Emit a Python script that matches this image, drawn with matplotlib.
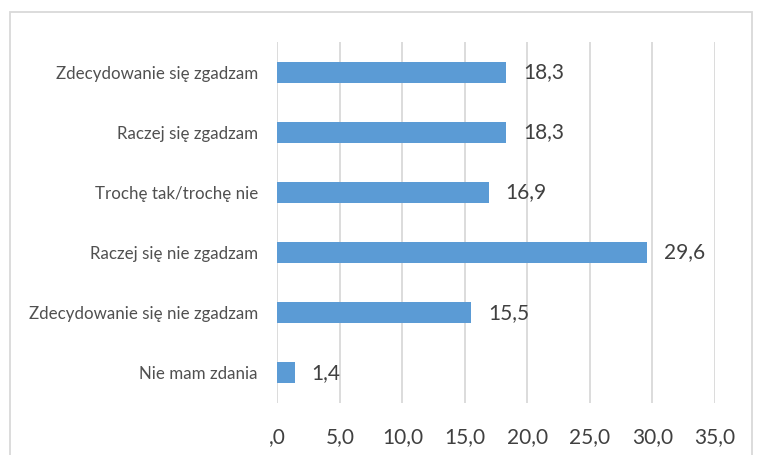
import matplotlib.pyplot as plt
from matplotlib.patches import Rectangle

categories = [
    "Zdecydowanie się zgadzam",
    "Raczej się zgadzam",
    "Trochę tak/trochę nie",
    "Raczej się nie zgadzam",
    "Zdecydowanie się nie zgadzam",
    "Nie mam zdania",
]
values = [18.3, 18.3, 16.9, 29.6, 15.5, 1.4]
xticks = [0, 5, 10, 15, 20, 25, 30, 35]
xtick_labels = [",0", "5,0", "10,0", "15,0", "20,0", "25,0", "30,0", "35,0"]

plt.rcParams["font.family"] = ["Lato", "DejaVu Sans"]
text_color = "#404040"
grid_color = "#D9D9D9"

fig = plt.figure(figsize=(7.58, 4.55), dpi=100)
ax = fig.add_axes([0.366, 0.1143, 0.577, 0.7934])

pos = list(range(len(categories)))[::-1]
ax.barh(pos, values, height=0.35, color="#5B9BD5", zorder=2)
for p, v in zip(pos, values):
    ax.annotate(f"{v:.1f}".replace(".", ","), (v, p), xytext=(12, 0),
                textcoords="offset points", va="center", ha="left",
                fontsize=15, color=text_color)

ax.set_xlim(0, 35)
ax.set_ylim(-0.5, len(categories) - 0.5)
ax.set_xticks(xticks)
ax.set_xticklabels(xtick_labels, fontsize=15, color=text_color)
ax.set_yticks(pos)
ax.set_yticklabels(categories, fontsize=12.2, color="#505050")
ax.tick_params(axis="x", length=0, pad=17)
ax.tick_params(axis="y", length=0, pad=14)
ax.grid(axis="x", color=grid_color, linewidth=1.3, zorder=0)
for s in ax.spines.values():
    s.set_visible(False)

# chart frame
fig.patches.append(Rectangle((10 / 758, -0.1), 742 / 758, 1.1 - 12 / 455,
                             transform=fig.transFigure, fill=False,
                             edgecolor=grid_color, linewidth=1.3))

fig.savefig("out.png", dpi=100)
